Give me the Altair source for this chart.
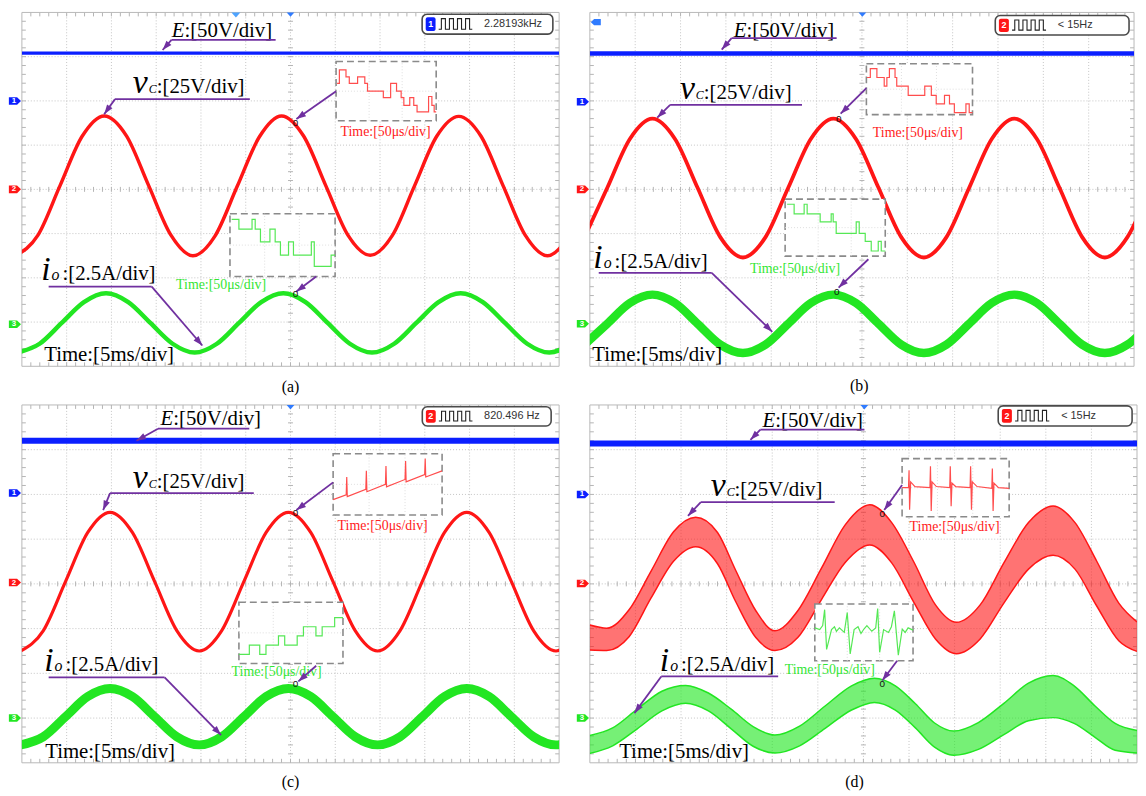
import math
import altair as alt
import pandas as pd

SERIF = "Liberation Serif"
SANS = "Liberation Sans"
BLUE = "#0b1fff"
LBLUE = "#4da3ff"
RED = "#ff1616"
GREEN = "#22e622"
PURPLE = "#7030a0"
GRIDC = "#c4c4c4"
TICKC = "#b4b4b4"
INS_RED = "#ff4d4d"
INS_GRN = "#55e855"
TXT_RED = "#ff2020"
TXT_GRN = "#33e633"

# ---------------- data: panel (a) ----------------
A_E_T = [0, 60]
A_E_V = [7.08, 7.08]
A_VC_T = [-0.7, 1.78, 4.25, 6.73, 9.2, 11.68, 14.15, 16.63, 19.1, 21.58, 24.05, 26.53, 29.0,
          31.48, 33.95, 36.43, 38.9, 41.38, 43.85, 46.33, 48.8, 51.28, 53.75, 56.23, 58.7, 61.18]
A_VC_V = [2.50, 2.96, 4.08, 5.20, 5.66, 5.21, 4.09, 2.97, 2.50, 2.95, 4.07, 5.19, 5.66,
          5.20, 4.08, 2.96, 2.51, 2.96, 4.08, 5.20, 5.65, 5.20, 4.08, 2.96, 2.50, 2.96]
A_IO_T = [-0.5, 1.98, 4.45, 6.93, 9.4, 11.88, 14.35, 16.83, 19.3, 21.78, 24.25, 26.73, 29.2,
          31.68, 34.15, 36.63, 39.1, 41.58, 44.05, 46.53, 49.0, 51.48, 53.95, 56.43, 58.9, 61.38]
A_IO_V = [0.31, 0.51, 0.98, 1.45, 1.65, 1.45, 0.98, 0.51, 0.31, 0.51, 0.98, 1.45, 1.65,
          1.45, 0.98, 0.51, 0.31, 0.51, 0.98, 1.45, 1.65, 1.45, 0.98, 0.51, 0.31, 0.51]
A_INS_R_U = [0.01, 0.033, 0.099, 0.132, 0.215, 0.287, 0.314, 0.472, 0.545, 0.604, 0.650, 0.677,
             0.736, 0.776, 0.809, 0.924, 0.957, 0.980, 1.0]
A_INS_R_V = [0.63, 0.86, 0.74, 0.63, 0.74, 0.63, 0.50, 0.39, 0.63, 0.50, 0.39, 0.26,
             0.39, 0.26, 0.15, 0.41, 0.26, 0.15, 0.15]
A_INS_G_U = [0.016, 0.085, 0.21, 0.24, 0.29, 0.38, 0.43, 0.48, 0.557, 0.604, 0.774, 0.802, 0.962, 1.0]
A_INS_G_V = [0.91, 0.755, 0.91, 0.755, 0.55, 0.755, 0.55, 0.34, 0.55, 0.34, 0.55, 0.16, 0.34, 0.34]

# ---------------- data: panel (b) ----------------
B_E_T = [0, 60]
B_E_V = [7.07, 7.07]
B_VC_T = [-0.58, 1.91, 4.41, 6.9, 9.39, 11.89, 14.38, 16.88, 19.37, 21.86, 24.36, 26.85, 29.34,
          31.84, 34.33, 36.83, 39.32, 41.81, 44.31, 46.80, 49.29, 51.79, 54.28, 56.78, 59.27, 61.76]
B_VC_V = [2.92, 4.03, 5.14, 5.60, 5.14, 4.03, 2.92, 2.46, 2.92, 4.03, 5.14, 5.60, 5.14,
          4.03, 2.92, 2.46, 2.92, 4.03, 5.14, 5.60, 5.14, 4.03, 2.92, 2.46, 2.92, 4.03]
B_IO_T = B_VC_T
B_IO_V = [0.49, 0.96, 1.43, 1.62, 1.43, 0.96, 0.49, 0.30, 0.49, 0.96, 1.43, 1.62, 1.43,
          0.96, 0.49, 0.30, 0.49, 0.96, 1.43, 1.62, 1.43, 0.96, 0.49, 0.30, 0.49, 0.96]
B_INS_R_U = [0.006, 0.037, 0.099, 0.168, 0.193, 0.217, 0.270, 0.286, 0.394, 0.550, 0.612, 0.658,
             0.736, 0.783, 0.829, 0.938, 0.969, 1.0]
B_INS_R_V = [0.73, 0.905, 0.73, 0.56, 0.73, 0.905, 0.73, 0.56, 0.38, 0.56, 0.38, 0.21,
             0.38, 0.21, 0.04, 0.21, 0.04, 0.04]
B_INS_G_U = [0.02, 0.09, 0.19, 0.22, 0.35, 0.46, 0.48, 0.51, 0.71, 0.74, 0.80, 0.86, 0.93, 0.96, 1.0]
B_INS_G_V = [0.91, 0.74, 0.91, 0.74, 0.60, 0.74, 0.60, 0.40, 0.60, 0.40, 0.26, 0.09, 0.26, 0.09, 0.09]

# ---------------- data: panel (c) ----------------
C_E_T = [0, 60]
C_E_V = [7.2, 7.2]
C_VC_T = [-0.11, 2.38, 4.87, 7.36, 9.85, 12.34, 14.83, 17.32, 19.81, 22.3, 24.79, 27.28, 29.77,
          32.26, 34.75, 37.24, 39.73, 42.22, 44.71, 47.2, 49.69, 52.18, 54.67, 57.16, 59.65, 62.14]
C_VC_V = [2.50, 2.95, 4.05, 5.15, 5.60, 5.15, 4.05, 2.95, 2.50, 2.95, 4.05, 5.15, 5.60,
          5.15, 4.05, 2.95, 2.50, 2.95, 4.05, 5.15, 5.60, 5.15, 4.05, 2.95, 2.50, 2.95]
C_IO_T = C_VC_T
C_IO_V = [0.40, 0.58, 1.03, 1.48, 1.66, 1.48, 1.03, 0.58, 0.40, 0.58, 1.03, 1.48, 1.66,
          1.48, 1.03, 0.58, 0.40, 0.58, 1.03, 1.48, 1.66, 1.48, 1.03, 0.58, 0.40, 0.58]
C_INS_R_U = [0.0, 0.12, 0.125, 0.13, 0.3, 0.305, 0.31, 0.48, 0.485, 0.49, 0.66, 0.665, 0.67,
             0.84, 0.845, 0.85, 1.0]
C_INS_R_V = [0.25, 0.33, 0.62, 0.30, 0.42, 0.72, 0.38, 0.50, 0.80, 0.46, 0.58, 0.88, 0.54,
             0.66, 0.92, 0.62, 0.72]
C_INS_G_U = [0.0, 0.1, 0.2, 0.26, 0.38, 0.44, 0.56, 0.62, 0.74, 0.8, 0.92, 1.0]
C_INS_G_V = [0.15, 0.3, 0.15, 0.3, 0.45, 0.3, 0.45, 0.6, 0.45, 0.6, 0.75, 0.75]

# ---------------- data: panel (d) ----------------
D_E_T = [0, 60]
D_E_V = [7.14, 7.14]
D_VC_T = [0, 1.85, 4.3, 6.7, 9.2, 11.6, 14.0, 16.0, 18.2, 20.3, 22.8, 25.4, 28.0,
          30.7, 33.1, 35.5, 37.9, 40.2, 42.8, 45.4, 48.1, 50.8, 53.2, 55.6, 58.0, 60.0]
D_VC_HI = [3.08, 3.01, 3.42, 4.28, 5.17, 5.49, 5.15, 4.30, 3.40, 2.95, 3.40, 4.35, 5.32,
           5.77, 5.37, 4.50, 3.53, 3.14, 3.53, 4.47, 5.37, 5.74, 5.37, 4.50, 3.57, 3.15]
D_VC_LO = [2.52, 2.51, 2.82, 3.68, 4.51, 4.83, 4.45, 3.60, 2.80, 2.51, 2.80, 3.65, 4.48,
           4.87, 4.47, 3.60, 2.77, 2.44, 2.77, 3.57, 4.33, 4.64, 4.33, 3.50, 2.73, 2.49]
D_IO_T = [0, 2.5, 5.2, 7.9, 10.5, 13.0, 15.5, 17.9, 20.3, 23.0, 25.8, 28.7, 31.2,
          33.5, 35.7, 37.8, 39.9, 42.6, 45.4, 48.1, 50.8, 53.1, 55.4, 57.6, 60.0]
D_IO_HI = [0.61, 0.78, 1.20, 1.60, 1.73, 1.56, 1.20, 0.81, 0.62, 0.82, 1.27, 1.72, 1.89,
           1.72, 1.32, 0.89, 0.71, 0.90, 1.33, 1.78, 1.95, 1.72, 1.27, 0.88, 0.72]
D_IO_LO = [0.21, 0.38, 0.76, 1.16, 1.33, 1.16, 0.76, 0.37, 0.22, 0.38, 0.77, 1.18, 1.35,
           1.18, 0.78, 0.35, 0.17, 0.30, 0.63, 0.94, 1.01, 0.88, 0.57, 0.28, 0.22]
D_INS_R_U = [0, 0.06, 0.065, 0.07, 0.08, 0.12, 0.26, 0.265, 0.272, 0.28, 0.32, 0.445, 0.45, 0.458,
             0.466, 0.5, 0.635, 0.64, 0.648, 0.656, 0.7, 0.838, 0.843, 0.85, 0.858, 0.9, 1.0]
D_INS_R_V = [0.5, 0.5, 0.8, 0.12, 0.6, 0.52, 0.5, 0.87, 0.1, 0.6, 0.52, 0.5, 0.87, 0.18,
             0.58, 0.52, 0.5, 0.87, 0.12, 0.6, 0.52, 0.49, 0.83, 0.1, 0.58, 0.5, 0.49]
D_INS_G_U = [0, 0.05, 0.08, 0.1, 0.12, 0.17, 0.2, 0.22, 0.25, 0.3, 0.33, 0.36, 0.4, 0.44, 0.47,
             0.5, 0.53, 0.58, 0.62, 0.64, 0.66, 0.7, 0.75, 0.78, 0.81, 0.85, 0.89, 0.92, 0.95, 1.0]
D_INS_G_V = [0.58, 0.55, 0.62, 0.9, 0.2, 0.55, 0.6, 0.52, 0.58, 0.5, 0.85, 0.12, 0.55, 0.6, 0.48,
             0.56, 0.62, 0.52, 0.58, 0.92, 0.15, 0.55, 0.5, 0.6, 0.88, 0.1, 0.56, 0.5, 0.58, 0.54]

# pulse icon of the frequency read-out
PULSE_U = [0, .08, .08, .2, .2, .32, .32, .44, .44, .56, .56, .68, .68, .8, .8, .92, .92, 1.0]
PULSE_V = [0, 0, 1, 1, 0, 0, 1, 1, 0, 0, 1, 1, 0, 0, 1, 1, 0, 0]

# ---------------- helpers ----------------
XS = alt.Scale(domain=[0, 60], nice=False, zero=False)
YS = alt.Scale(domain=[0, 8], nice=False, zero=False)


def X(f="t"):
    return alt.X(f, type="quantitative", scale=XS, axis=None)


def Y(f="v"):
    return alt.Y(f, type="quantitative", scale=YS, axis=None)


def one(t, v):
    return pd.DataFrame({"t": [t], "v": [v]})


def frame(W, H):
    pt, pv = 60.0 / W, 8.0 / H
    L = []
    gv = pd.DataFrame({"t": [5.0 * i for i in range(1, 12)], "v": [0.0] * 11, "v2": [8.0] * 11})
    gh = pd.DataFrame({"v": [1.0 * i for i in range(1, 8)], "t": [0.0] * 7, "t2": [60.0] * 7})
    L.append(alt.Chart(gv).mark_rule(color=GRIDC, strokeWidth=1, strokeDash=[1, 2])
             .encode(x=X(), y=Y(), y2=alt.Y2("v2")))
    L.append(alt.Chart(gh).mark_rule(color=GRIDC, strokeWidth=1, strokeDash=[1, 2])
             .encode(y=Y(), x=X(), x2=alt.X2("t2")))
    hv, ht, ht2 = [], [], []
    for k in range(1, 40):
        for a, b in ((0, 4 * pt), (60 - 4 * pt, 60), (30 - 2.5 * pt, 30 + 2.5 * pt)):
            hv.append(0.2 * k); ht.append(a); ht2.append(b)
    L.append(alt.Chart(pd.DataFrame({"v": hv, "t": ht, "t2": ht2}))
             .mark_rule(color=TICKC, strokeWidth=1).encode(y=Y(), x=X(), x2=alt.X2("t2")))
    vt, vv, vv2 = [], [], []
    for k in range(1, 60):
        for a, b in ((0, 4 * pv), (8 - 4 * pv, 8), (4 - 2.5 * pv, 4 + 2.5 * pv)):
            vt.append(1.0 * k); vv.append(a); vv2.append(b)
    L.append(alt.Chart(pd.DataFrame({"t": vt, "v": vv, "v2": vv2}))
             .mark_rule(color=TICKC, strokeWidth=1).encode(x=X(), y=Y(), y2=alt.Y2("v2")))
    border = pd.DataFrame({"t": [0.0], "t2": [60.0], "v": [0.0], "v2": [8.0]})
    L.append(alt.Chart(border).mark_rect(fill="white", fillOpacity=0, stroke="#b8b8b8", strokeWidth=1)
             .encode(x=X(), x2=alt.X2("t2"), y=Y(), y2=alt.Y2("v2")))
    return L


def line(t, v, color, width, interp="monotone"):
    return alt.Chart(pd.DataFrame({"t": t, "v": v})).mark_line(
        color=color, strokeWidth=width, interpolate=interp, clip=True).encode(x=X(), y=Y())


def band(t, lo, hi, color, opacity):
    d = pd.DataFrame({"t": t, "v": lo, "v2": hi})
    return [alt.Chart(d).mark_area(color=color, opacity=opacity, interpolate="monotone", clip=True)
            .encode(x=X(), y=Y(), y2=alt.Y2("v2")),
            line(t, hi, color, 1.5), line(t, lo, color, 1.5)]


def txt(t, v, s, size, color="black", font=SERIF, align="left", baseline="alphabetic", **kw):
    return alt.Chart(one(t, v)).mark_text(text=s, fontSize=size, color=color, font=font,
                                          align=align, baseline=baseline, **kw).encode(x=X(), y=Y())


def seg(t1, v1, t2, v2, color, width, dash=None):
    kw = dict(color=color, strokeWidth=width)
    if dash:
        kw["strokeDash"] = dash
    d = pd.DataFrame({"t": [t1], "v": [v1], "t2": [t2], "v2": [v2]})
    return alt.Chart(d).mark_rule(**kw).encode(x=X(), y=Y(), x2=alt.X2("t2"), y2=alt.Y2("v2"))


HEAD = "M0,0L0.62,1.8L-0.62,1.8Z"


def arrow(t1, v1, t2, v2, W, H, color=PURPLE):
    dx = (t2 - t1) * W / 60.0
    dy = -(v2 - v1) * H / 8.0
    ang = math.degrees(math.atan2(dx, -dy)) % 360
    return [seg(t1, v1, t2, v2, color, 1.8),
            alt.Chart(one(t2, v2)).mark_point(shape=HEAD, size=115, filled=True, color=color,
                                              opacity=1, angle=ang, strokeWidth=0).encode(x=X(), y=Y())]


def pointer(ta, tb, vu, ttip, vtip, W, H):
    return [seg(min(ta, tb), vu, max(ta, tb), vu, PURPLE, 1.8)] + arrow(ta, vu, ttip, vtip, W, H)


def label_E(t, v):
    return [txt(t, v, "E", 21, align="right", fontStyle="italic"), txt(t, v, ":[50V/div]", 21)]


def label_vc(t, v):
    return [txt(t, v, "v", 34, align="right", fontStyle="italic"),
            txt(t, v, "C", 12, fontStyle="italic", dx=1),
            txt(t, v, ":[25V/div]", 21, dx=9)]


def label_io(t, v):
    return [txt(t, v, "i", 34, align="right", fontStyle="italic"),
            txt(t, v, "o", 16, fontStyle="italic", dx=1),
            txt(t, v, ":[2.5A/div]", 21, dx=12)]


def inset(x0, x1, y0, y1, U, V, color, interp):
    box = pd.DataFrame({"t": [x0], "t2": [x1], "v": [y0], "v2": [y1]})
    d = pd.DataFrame({"u": U, "w": V, "i": list(range(len(U)))})
    gx = pd.DataFrame({"t": [x0 + f * (x1 - x0) for f in (0.33, 0.66)], "v": [y0] * 2, "v2": [y1] * 2})
    gy = pd.DataFrame({"v": [(y0 + y1) / 2], "t": [x0], "t2": [x1]})
    return [alt.Chart(box).mark_rect(fill="white", stroke="#8a8a8a", strokeWidth=1.6, strokeDash=[7, 4])
            .encode(x=X(), x2=alt.X2("t2"), y=Y(), y2=alt.Y2("v2")),
            alt.Chart(gx).mark_rule(color="#dedede", strokeDash=[1, 2]).encode(x=X(), y=Y(), y2=alt.Y2("v2")),
            alt.Chart(gy).mark_rule(color="#dedede", strokeDash=[1, 2]).encode(y=Y(), x=X(), x2=alt.X2("t2")),
            alt.Chart(d).transform_calculate(t=f"{x0} + datum.u * {x1 - x0}",
                                             v=f"{y0} + datum.w * {y1 - y0}")
            .mark_line(color=color, strokeWidth=1.2, interpolate=interp)
            .encode(x=X(), y=Y(), order=alt.Order("i:Q"))]


def zero(t, v):
    return txt(t, v, "0", 10, color="#111", font=SANS, align="center", baseline="middle")


def info(t0, t1, vb, vt, ch, chcolor, label):
    box = pd.DataFrame({"t": [t0], "t2": [t1], "v": [vb], "v2": [vt]})
    icon = pd.DataFrame({"t": [t0 + 0.4], "t2": [t0 + 1.5], "v": [vb + 0.07], "v2": [vt - 0.07]})
    d = pd.DataFrame({"u": PULSE_U, "w": PULSE_V, "i": list(range(len(PULSE_U)))})
    g0, g1, h0, h1 = t0 + 1.85, t0 + 5.6, vb + 0.11, vt - 0.1
    mid = (vb + vt) / 2
    return [alt.Chart(box).mark_rect(fill="white", stroke="#4a4a4a", strokeWidth=1.6, cornerRadius=5)
            .encode(x=X(), x2=alt.X2("t2"), y=Y(), y2=alt.Y2("v2")),
            alt.Chart(icon).mark_rect(fill=chcolor, cornerRadius=2)
            .encode(x=X(), x2=alt.X2("t2"), y=Y(), y2=alt.Y2("v2")),
            txt(t0 + 0.95, mid, ch, 9, color="white", font=SANS, align="center", baseline="middle",
                fontWeight="bold"),
            alt.Chart(d).transform_calculate(t=f"{g0} + datum.u * {g1 - g0}", v=f"{h0} + datum.w * {h1 - h0}")
            .mark_line(color="#222", strokeWidth=1.1).encode(x=X(), y=Y(), order=alt.Order("i:Q")),
            txt(t0 + 6.9, mid, label, 11, color="#333", font=SANS, baseline="middle")]


TAG = "M-1,-0.62L0.35,-0.62L1,0L0.35,0.62L-1,0.62Z"
TRI = "M-1,0L1,0L0,1.15Z"


def tags(W, levels):
    t = -7.0 * 60.0 / W
    L = []
    for v, color, lab in levels:
        L.append(alt.Chart(one(t, v)).mark_point(shape=TAG, size=150, filled=True, color=color,
                                                 opacity=1, strokeWidth=0).encode(x=X(), y=Y()))
        L.append(txt(t, v, lab, 8, color="white", font=SANS, align="center", baseline="middle",
                     fontWeight="bold", dx=-1))
    return L


def trig(t, color, size=60):
    return alt.Chart(one(t, 8.0)).mark_point(shape=TRI, size=size, filled=True, color=color,
                                             opacity=1, strokeWidth=0).encode(x=X(), y=Y())


def tag_levels(b, r, g):
    return [(b, BLUE, "1"), (r, RED, "2"), (g, GREEN, "3")]


# ---------------- panel (a) ----------------
W, H = 542, 357
LA = frame(W, H)
LA += [line(A_E_T, A_E_V, BLUE, 3.2, "linear"), line(A_VC_T, A_VC_V, RED, 3.5), line(A_IO_T, A_IO_V, GREEN, 4.5)]
LA += inset(35.09, 46.27, 5.55, 6.89, A_INS_R_U, A_INS_R_V, INS_RED, "step-after")
LA += inset(23.24, 34.98, 2.03, 3.45, A_INS_G_U, A_INS_G_V, INS_GRN, "step-after")
LA += [txt(40.62, 5.21, "Time:[50μs/div]", 14, color=TXT_RED, align="center"),
       txt(22.25, 1.74, "Time:[50μs/div]", 14, color=TXT_GRN, align="center")]
LA += arrow(35.09, 6.22, 30.66, 5.59, W, H) + [zero(30.55, 5.50)]
LA += arrow(32.87, 2.03, 30.66, 1.69, W, H) + [zero(30.55, 1.63)]
LA += label_E(18.15, 7.44) + pointer(16.71, 28.34, 7.38, 15.72, 7.15, W, H)
LA += label_vc(14.06, 6.17) + pointer(10.40, 25.46, 6.04, 9.19, 5.70, W, H)
LA += label_io(3.21, 1.94) + pointer(14.50, 2.99, 1.80, 20.15, 0.47, W, H)
LA += [txt(9.74, 0.11, "Time:[5ms/div]", 21, align="center")]
LA += info(44.7, 59.3, 7.51, 7.96, "1", BLUE, "2.28193kHz")
LA += [trig(23.9, LBLUE, 80), trig(30.0, "#2f7bff")]
LA += tags(W, tag_levels(6.0, 4.0, 0.95))
LA += [txt(30.0, -0.58, "(a)", 16, align="center")]
pa = alt.layer(*LA).properties(width=W, height=H)

# ---------------- panel (b) ----------------
W, H = 549, 357
LB = frame(W, H)
LB += [line(B_E_T, B_E_V, BLUE, 4.5, "linear"), line(B_VC_T, B_VC_V, RED, 3.8), line(B_IO_T, B_IO_V, GREEN, 8.5)]
LB += inset(30.49, 42.19, 5.69, 6.84, B_INS_R_U, B_INS_R_V, INS_RED, "step-after")
LB += inset(21.53, 32.57, 2.49, 3.78, B_INS_G_U, B_INS_G_V, INS_GRN, "step-after")
LB += [txt(36.17, 5.18, "Time:[50μs/div]", 14, color=TXT_RED, align="center"),
       txt(22.62, 2.11, "Time:[50μs/div]", 14, color=TXT_GRN, align="center")]
LB += arrow(30.49, 6.29, 27.65, 5.71, W, H) + [zero(27.43, 5.60)]
LB += arrow(30.71, 2.42, 27.43, 1.78, W, H) + [zero(27.21, 1.67)]
LB += label_E(17.27, 7.44) + pointer(15.63, 27.21, 7.42, 14.54, 7.16, W, H)
LB += label_vc(11.58, 6.04) + pointer(8.85, 23.39, 5.91, 7.43, 5.62, W, H)
LB += label_io(1.42, 2.22) + pointer(13.44, 0.98, 2.11, 20.11, 0.78, W, H)
LB += [txt(7.43, 0.11, "Time:[5ms/div]", 21, align="center")]
LB += info(44.70, 59.45, 7.49, 7.93, "2", RED, "< 15Hz")
LB += [trig(30.05, "#2f7bff"),
       alt.Chart(one(0.66, 7.78)).mark_point(shape=TAG, size=100, filled=True, color="#2f7bff", opacity=1,
                                             angle=180, strokeWidth=0).encode(x=X(), y=Y())]
LB += tags(W, tag_levels(5.98, 4.0, 0.96))
LB += [txt(29.7, -0.56, "(b)", 16, align="center")]
pb = alt.layer(*LB).properties(width=W, height=H)

# ---------------- panel (c) ----------------
W, H = 542, 361
LC = frame(W, H)
LC += [line(C_E_T, C_E_V, BLUE, 6, "linear"), line(C_VC_T, C_VC_V, RED, 3.2), line(C_IO_T, C_IO_V, GREEN, 9)]
LC += inset(34.76, 46.93, 5.54, 6.91, C_INS_R_U, C_INS_R_V, INS_RED, "linear")
LC += inset(24.24, 35.86, 2.22, 3.59, C_INS_G_U, C_INS_G_V, INS_GRN, "step-after")
LC += [txt(40.29, 5.21, "Time:[50μs/div]", 14, color=TXT_RED, align="center"),
       txt(28.45, 1.93, "Time:[50μs/div]", 14, color=TXT_GRN, align="center")]
LC += arrow(34.76, 6.27, 30.66, 5.65, W, H) + [zero(30.55, 5.58)]
LC += arrow(32.87, 2.17, 30.88, 1.82, W, H) + [zero(30.55, 1.75)]
LC += label_E(16.9, 7.56) + pointer(15.2, 25.4, 7.47, 12.8, 7.20, W, H)
LC += label_vc(14.06, 6.14) + pointer(9.85, 25.90, 6.03, 9.08, 5.65, W, H)
LC += label_io(3.54, 2.06) + pointer(15.94, 2.99, 1.91, 22.25, 0.62, W, H)
LC += [txt(9.85, 0.11, "Time:[5ms/div]", 21, align="center")]
LC += info(44.72, 59.11, 7.53, 7.96, "2", RED, "820.496 Hz")
LC += [trig(30.0, "#2f7bff")]
LC += tags(W, tag_levels(6.03, 4.03, 1.0))
LC += [txt(30.0, -0.55, "(c)", 16, align="center")]
pc = alt.layer(*LC).properties(width=W, height=H)

# ---------------- panel (d) ----------------
W, H = 552, 361
LD = frame(W, H)
LD += [line(D_E_T, D_E_V, BLUE, 6, "linear")]
LD += band(D_VC_T, D_VC_LO, D_VC_HI, RED, 0.6)
LD += band(D_IO_T, D_IO_LO, D_IO_HI, GREEN, 0.62)
LD += inset(34.24, 45.98, 5.50, 6.80, D_INS_R_U, D_INS_R_V, INS_RED, "linear")
LD += inset(24.67, 35.44, 2.28, 3.55, D_INS_G_U, D_INS_G_V, INS_GRN, "linear")
LD += [txt(40.0, 5.19, "Time:[50μs/div]", 14, color=TXT_RED, align="center"),
       txt(26.31, 1.99, "Time:[50μs/div]", 14, color=TXT_GRN, align="center")]
LD += arrow(34.24, 6.21, 32.28, 5.65, W, H) + [zero(32.07, 5.56)]
LD += arrow(33.70, 2.28, 32.07, 1.84, W, H) + [zero(32.07, 1.75)]
LD += label_E(20.33, 7.51) + pointer(18.70, 30.11, 7.45, 17.61, 7.22, W, H)
LD += label_vc(14.89, 5.96) + pointer(12.17, 26.85, 5.83, 10.76, 5.52, W, H)
LD += label_io(8.70, 2.06) + pointer(7.83, 20.65, 1.93, 4.89, 1.11, W, H)
LD += [txt(10.33, 0.1, "Time:[5ms/div]", 21, align="center")]
LD += info(44.78, 59.46, 7.53, 7.98, "2", RED, "< 15Hz")
LD += [trig(30.1, "#2f7bff")]
LD += tags(W, tag_levels(6.0, 4.01, 1.0))
LD += [txt(29.02, -0.55, "(d)", 16, align="center")]
pdd = alt.layer(*LD).properties(width=W, height=H)

chart = (alt.concat(pa, pb, pc, pdd, columns=2, spacing={"row": 39, "column": 31}, bounds="flush")
         .properties(padding=0, background="white")
         .configure_view(strokeWidth=0))

chart.save("out.html", embed_options={"renderer": "svg", "actions": False})
